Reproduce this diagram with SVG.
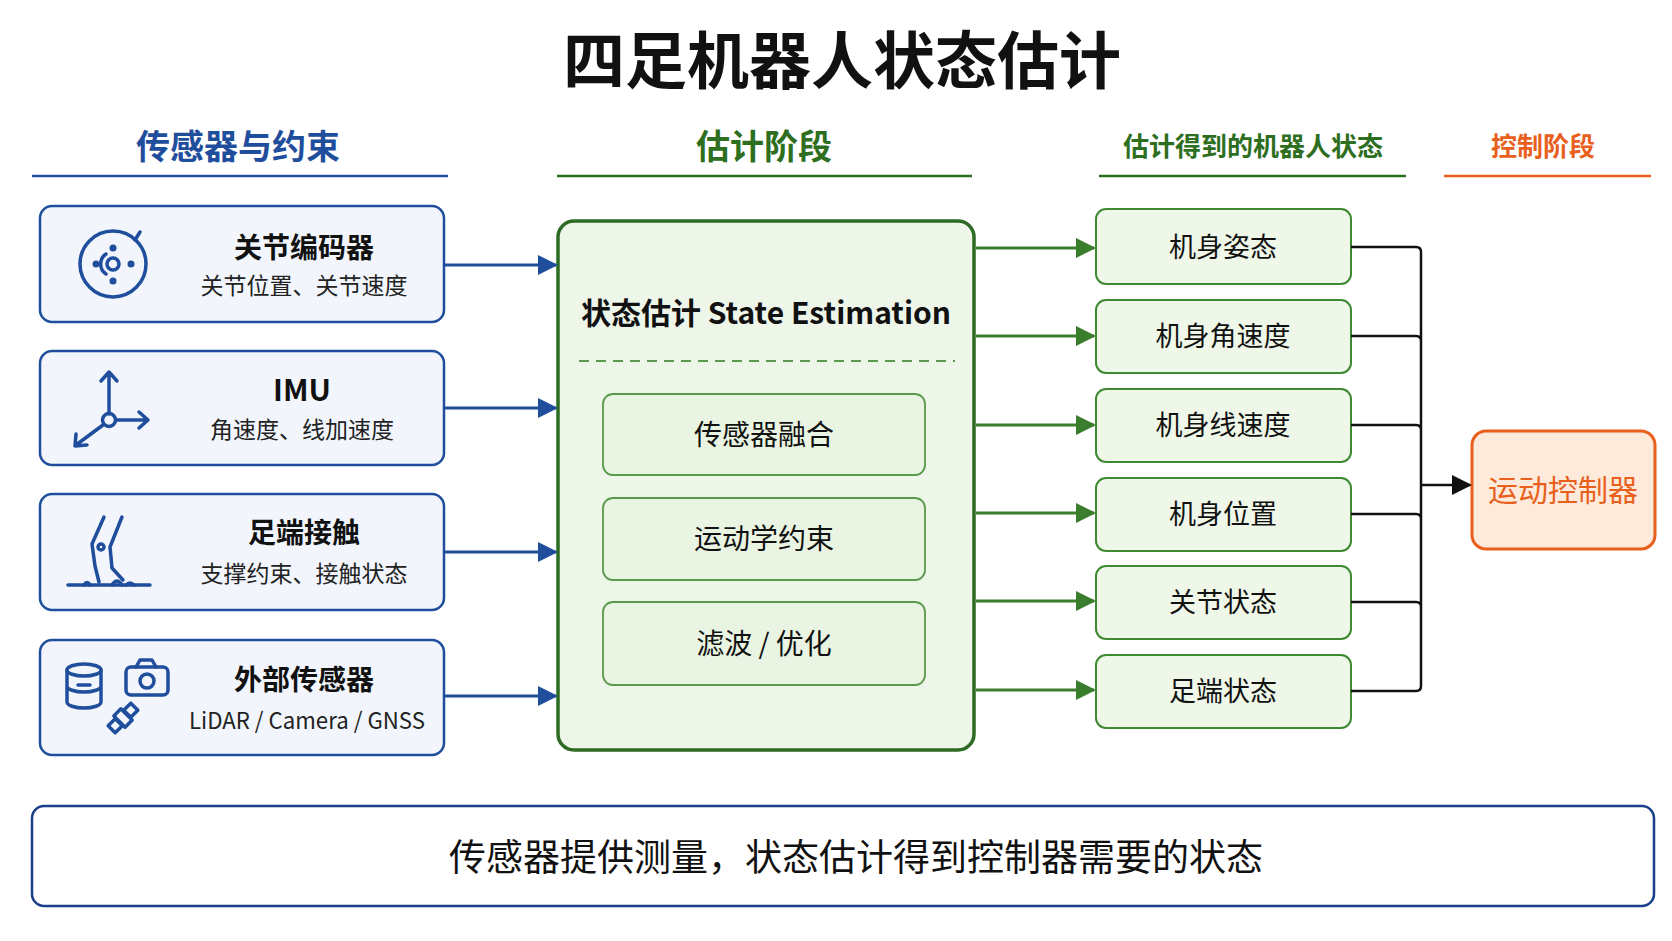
<svg xmlns="http://www.w3.org/2000/svg" width="1672" height="941" viewBox="0 0 1672 941">
<defs>
<style>
text{font-family:"Noto Sans CJK SC","Noto Sans",sans-serif;text-anchor:middle}
.t{font-weight:700;fill:#111}
.s{fill:#222;font-size:23px}
.lb{fill:#f2f6fc;stroke:#1f4e9c;stroke-width:2.5}
.sb{fill:#eef7e8;stroke:#3e8a32;stroke-width:2}
.ib{fill:#e9f4e2;stroke:#5a9a4c;stroke-width:1.8}
.ic{fill:none;stroke:#1f4e9c;stroke-width:3.5;stroke-linecap:round;stroke-linejoin:round}
.ba{stroke:#1f4e9c;stroke-width:3;fill:none}
.ga{stroke:#3a7d2c;stroke-width:3;fill:none}
.ka{stroke:#111;stroke-width:2.5;fill:none}
</style>
<marker id="mbb" viewBox="0 0 10 10" refX="9" refY="5" markerWidth="20" markerHeight="20" markerUnits="userSpaceOnUse" orient="auto"><path d="M0,0L10,5L0,10z" fill="#1f4e9c"/></marker>
<marker id="mg" viewBox="0 0 10 10" refX="9" refY="5" markerWidth="20" markerHeight="20" markerUnits="userSpaceOnUse" orient="auto"><path d="M0,0L10,5L0,10z" fill="#3a7d2c"/></marker>
<marker id="mk" viewBox="0 0 10 10" refX="9" refY="5" markerWidth="20" markerHeight="20" markerUnits="userSpaceOnUse" orient="auto"><path d="M0,0L10,5L0,10z" fill="#111"/></marker>
</defs>
<rect width="1672" height="941" fill="#fff"/>
<text x="842" y="84" class="t" font-size="62">四足机器人状态估计</text>
<g id="headers" font-weight="700">
<text x="238" y="159" font-size="34" fill="#1f4e9c">传感器与约束</text>
<line x1="32" y1="176" x2="448" y2="176" stroke="#1f4e9c" stroke-width="2.5"/>
<text x="764" y="159" font-size="34" fill="#2e6e1f">估计阶段</text>
<line x1="557" y1="176" x2="972" y2="176" stroke="#2e6e1f" stroke-width="2.5"/>
<text x="1253" y="156" font-size="26" fill="#2e6e1f">估计得到的机器人状态</text>
<line x1="1099" y1="176" x2="1406" y2="176" stroke="#2e6e1f" stroke-width="2.5"/>
<text x="1543" y="156" font-size="26" fill="#e8601c">控制阶段</text>
<line x1="1444" y1="176" x2="1651" y2="176" stroke="#e8601c" stroke-width="2.5"/>
</g>
<g id="encoder">
<rect class="lb" x="40" y="206" width="404" height="116" rx="12"/>
<circle class="ic" cx="113" cy="264" r="33"/>
<line class="ic" x1="135" y1="240" x2="140" y2="232"/>
<circle class="ic" cx="113" cy="264" r="6" stroke-width="3"/>
<path class="ic" d="M106,254 A12,12 0 0 0 106,274" stroke-width="3"/>
<circle cx="113" cy="248" r="3.5" fill="#1f4e9c"/><circle cx="113" cy="281" r="3.5" fill="#1f4e9c"/>
<circle cx="96" cy="264" r="3.5" fill="#1f4e9c"/><circle cx="131" cy="264" r="3.5" fill="#1f4e9c"/>
<text x="304" y="258" class="t" font-size="28">关节编码器</text>
<text x="304" y="294" class="s">关节位置、关节速度</text>
</g>
<g id="imu">
<rect class="lb" x="40" y="351" width="404" height="114" rx="12"/>
<path class="ic" d="M109,414V373M101,381L109,372L117,381M116,420H147M139,412L148,420L139,428M103,425L76,445M76,434L75,446L87,445" stroke-width="3"/>
<circle class="ic" cx="109" cy="420" r="6.5" stroke-width="3"/>
<text x="302" y="401" class="t" font-size="30" font-family="Liberation Sans,sans-serif">IMU</text>
<text x="302" y="438" class="s">角速度、线加速度</text>
</g>
<g id="foot">
<rect class="lb" x="40" y="494" width="404" height="116" rx="12"/>
<path class="ic" d="M104,517L92,544L95,566L99,582M122,517L110,547L112,568L123,580" stroke-width="3"/>
<circle class="ic" cx="101" cy="547" r="3" stroke-width="2"/>
<line class="ic" x1="68" y1="585" x2="150" y2="585" stroke-width="3"/>
<path class="ic" d="M84,585q3,-5 6,0M112,585q5,-8 10,0M126,585q4,-4 8,0" stroke-width="3"/>
<text x="304" y="543" class="t" font-size="28">足端接触</text>
<text x="304" y="582" class="s">支撑约束、接触状态</text>
</g>
<g id="external">
<rect class="lb" x="40" y="640" width="404" height="115" rx="12"/>
<ellipse class="ic" cx="84" cy="670" rx="17" ry="6" stroke-width="3"/>
<path class="ic" d="M67,670V702A17,6 0 0 0 101,702V670M67,686A17,6 0 0 0 101,686M78,685H90" stroke-width="3"/>
<rect class="ic" x="126" y="667" width="42" height="28" rx="5" stroke-width="3"/>
<path class="ic" d="M136,667L140,660H152L156,667" stroke-width="3"/>
<circle class="ic" cx="147" cy="681" r="7" stroke-width="3"/>
<g transform="translate(123,718) rotate(-45)"><rect class="ic" x="-5" y="-8" width="10" height="16" stroke-width="2.5"/><rect class="ic" x="-16" y="-5" width="10" height="10" stroke-width="2.5"/><rect class="ic" x="6" y="-5" width="10" height="10" stroke-width="2.5"/></g>
<text x="304" y="690" class="t" font-size="28">外部传感器</text>
<text x="307" y="729" class="s" font-family="Roboto,sans-serif" textLength="236" lengthAdjust="spacingAndGlyphs">LiDAR / Camera / GNSS</text>
</g>
<g id="estimator">
<rect x="558" y="221" width="416" height="529" rx="16" fill="#eef6ea" stroke="#2e6b24" stroke-width="3.5"/>
<text x="766" y="324" class="t" font-size="30">状态估计 State Estimation</text>
<line x1="579" y1="361" x2="955" y2="361" stroke="#5a9a4c" stroke-width="2" stroke-dasharray="10 7"/>
</g>
<g id="fusion"><rect class="ib" x="603" y="394" width="322" height="81" rx="10"/><text x="764" y="445" font-size="28" fill="#111">传感器融合</text></g>
<g id="kinematic"><rect class="ib" x="603" y="498" width="322" height="82" rx="10"/><text x="764" y="549" font-size="28" fill="#111">运动学约束</text></g>
<g id="filter"><rect class="ib" x="603" y="602" width="322" height="83" rx="10"/><text x="764" y="654" font-size="28" fill="#111">滤波 / 优化</text></g>
<g id="s1"><rect class="sb" x="1096" y="209" width="255" height="75" rx="10"/><text x="1223" y="257" font-size="27" fill="#111">机身姿态</text></g>
<g id="s2"><rect class="sb" x="1096" y="300" width="255" height="73" rx="10"/><text x="1223" y="346" font-size="27" fill="#111">机身角速度</text></g>
<g id="s3"><rect class="sb" x="1096" y="389" width="255" height="73" rx="10"/><text x="1223" y="435" font-size="27" fill="#111">机身线速度</text></g>
<g id="s4"><rect class="sb" x="1096" y="478" width="255" height="73" rx="10"/><text x="1223" y="524" font-size="27" fill="#111">机身位置</text></g>
<g id="s5"><rect class="sb" x="1096" y="566" width="255" height="73" rx="10"/><text x="1223" y="612" font-size="27" fill="#111">关节状态</text></g>
<g id="s6"><rect class="sb" x="1096" y="655" width="255" height="73" rx="10"/><text x="1223" y="701" font-size="27" fill="#111">足端状态</text></g>
<g id="controller"><rect x="1472" y="431" width="183" height="118" rx="14" fill="#fdeadb" stroke="#e8601c" stroke-width="3"/><text x="1563" y="501" font-size="30" fill="#e8601c">运动控制器</text></g>
<g id="connectors">
<path class="ba" d="M444,265H556" marker-end="url(#mbb)"/>
<path class="ba" d="M444,408H556" marker-end="url(#mbb)"/>
<path class="ba" d="M444,552H556" marker-end="url(#mbb)"/>
<path class="ba" d="M444,696H556" marker-end="url(#mbb)"/>
<path class="ga" d="M976,248H1094" marker-end="url(#mg)"/>
<path class="ga" d="M976,336H1094" marker-end="url(#mg)"/>
<path class="ga" d="M976,425H1094" marker-end="url(#mg)"/>
<path class="ga" d="M976,513H1094" marker-end="url(#mg)"/>
<path class="ga" d="M976,601H1094" marker-end="url(#mg)"/>
<path class="ga" d="M976,690H1094" marker-end="url(#mg)"/>
<path class="ka" d="M1351,247H1416q5,0 5,5V686q0,5 -5,5H1351M1351,336H1416q5,0 5,5M1351,425H1416q5,0 5,5M1351,514H1416q5,0 5,5M1351,602H1416q5,0 5,5"/>
<path class="ka" d="M1421,485H1470" marker-end="url(#mk)"/>
</g>
<g id="summary">
<rect x="32" y="806" width="1622" height="100" rx="12" fill="#fff" stroke="#1a3f8a" stroke-width="2.5"/>
<text x="856" y="871" font-size="37" fill="#111">传感器提供测量，状态估计得到控制器需要的状态</text>
</g>
</svg>
